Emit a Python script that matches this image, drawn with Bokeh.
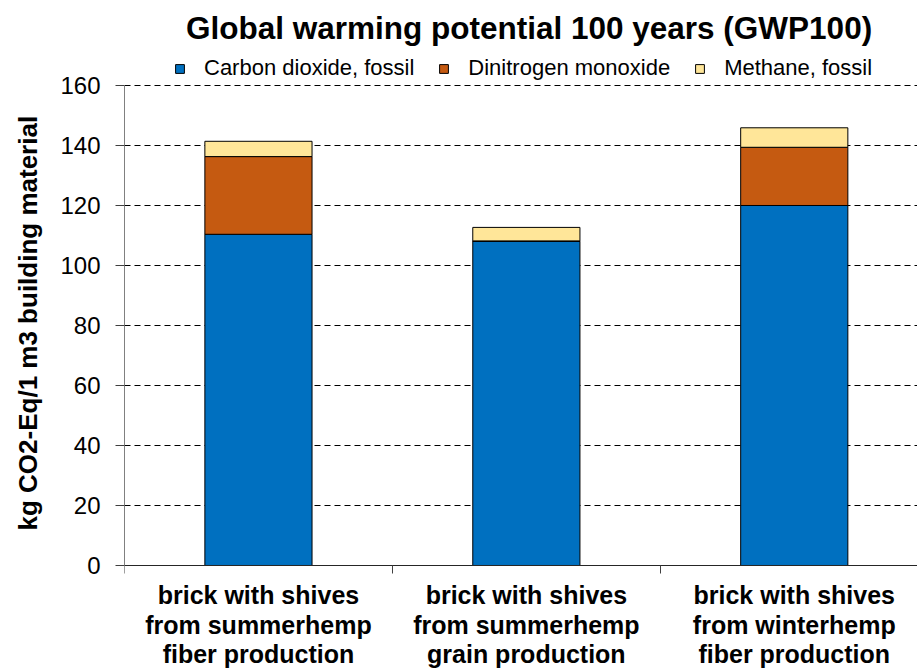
from bokeh.plotting import figure
from bokeh.models import ColumnDataSource, Range1d, FixedTicker, Legend, LegendItem, Label, Title
from bokeh.embed import file_html
from bokeh.resources import INLINE

title_text = "Global warming potential 100 years (GWP100)"
y_label = "kg CO2-Eq/1 m3 building material"
categories = [
    "brick with shives\nfrom summerhemp\nfiber production",
    "brick with shives\nfrom summerhemp\ngrain production",
    "brick with shives\nfrom winterhemp\nfiber production",
]
series = ["Carbon dioxide, fossil", "Dinitrogen monoxide", "Methane, fossil"]
co2 = [110.4, 108.0, 120.0]
n2o = [25.9, 0.2, 19.4]
ch4 = [5.1, 4.5, 6.5]
colors = ["#0070C0", "#C55A11", "#FFE699"]
y_ticks = [0, 20, 40, 60, 80, 100, 120, 140, 160]

FONT = "Liberation Sans"

xs = [i + 0.5 for i in range(len(categories))]
src = ColumnDataSource(dict(x=xs, co2=co2, n2o=n2o, ch4=ch4))

# frame spans the full height; value axis runs 0..160 in the middle of it
p = figure(width=917, height=670, output_backend="svg", toolbar_location=None,
           x_range=Range1d(0, 2.96), y_range=Range1d(-35, 188.33),
           min_border_left=123, min_border_right=0, min_border_bottom=0, min_border_top=0)
p.outline_line_color = None
p.background_fill_color = "white"
p.border_fill_color = "white"

renderers = p.vbar_stack(["co2", "n2o", "ch4"], x="x", width=0.4, source=src,
                         fill_color=colors, line_color="black", line_width=1)

# title
p.add_layout(Label(x=1.51, y=179.3, text=title_text, text_align="center",
                   text_baseline="alphabetic", text_font=FONT, text_font_style="bold",
                   text_font_size="31.5px", text_color="black"))

legend = Legend(items=[LegendItem(label=s, renderers=[r]) for s, r in zip(series, renderers)],
                orientation="horizontal", location=(50, 589))
legend.label_text_font = FONT
legend.label_text_font_size = "22px"
legend.label_text_color = "black"
legend.glyph_width = 11
legend.glyph_height = 11
legend.spacing = 24
legend.label_standoff = 19
legend.padding = 0
legend.margin = 0
legend.border_line_color = None
legend.background_fill_alpha = 0
p.add_layout(legend, "center")

# y axis
p.yaxis.ticker = FixedTicker(ticks=y_ticks)
p.yaxis.bounds = (0, 160)
p.yaxis.major_label_text_font = FONT
p.yaxis.major_label_text_font_size = "24px"
p.yaxis.major_label_text_color = "black"
p.yaxis.major_label_standoff = 15
p.yaxis.axis_line_color = "#808080"
p.yaxis.major_tick_line_color = "#404040"
p.yaxis.major_tick_out = 9
p.yaxis.major_tick_in = 0
p.yaxis.minor_tick_line_color = None

ytitle = Title(text=y_label, align="left", offset=140, vertical_align="top", standoff=25,
               text_font=FONT, text_font_style="bold", text_font_size="26px",
               text_color="black")
p.add_layout(ytitle, "left")

# x axis (fixed at value 0, inside the frame)
p.xaxis.fixed_location = 0
p.xaxis.ticker = FixedTicker(ticks=xs, minor_ticks=[0, 1, 2, 3])
p.xaxis.major_label_overrides = {x: c for x, c in zip(xs, categories)}
p.xaxis.major_label_text_font = FONT
p.xaxis.major_label_text_font_style = "bold"
p.xaxis.major_label_text_font_size = "25px"
p.xaxis.major_label_text_color = "black"
p.xaxis.major_label_text_line_height = 1.04
p.xaxis.major_tick_out = 0
p.xaxis.major_tick_in = 0
p.xaxis.minor_tick_out = 8
p.xaxis.minor_tick_in = 0
p.xaxis.minor_tick_line_color = "#404040"
p.xaxis.axis_line_color = "#262626"
p.xaxis.major_label_standoff = 8

p.xgrid.grid_line_color = None
p.ygrid.grid_line_color = "black"
p.ygrid.grid_line_dash = "6 4"
p.ygrid.grid_line_width = 1

open("out.html", "w").write(file_html(p, INLINE))
